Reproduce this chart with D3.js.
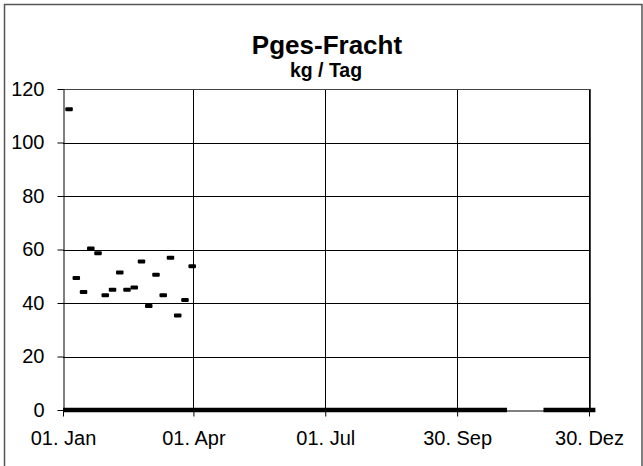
<!DOCTYPE html>
<html>
<head>
<meta charset="utf-8">
<script src="https://cdn.jsdelivr.net/npm/d3@7"></script>
<style>
  body { margin: 0; background: #fff; }
  text { font-family: "Liberation Sans", Arial, sans-serif; }
</style>
</head>
<body>
<div id="chart"></div>
<script>
// measured loads (kg / Tag), one every 5 days in Q1
var pointDates = ["2003-01-05","2003-01-10","2003-01-15","2003-01-20","2003-01-25","2003-01-30",
                  "2003-02-04","2003-02-09","2003-02-14","2003-02-19","2003-02-24","2003-03-01",
                  "2003-03-06","2003-03-11","2003-03-16","2003-03-21","2003-03-26","2003-03-31"];
var pointValues = [112.4, 49.3, 44.1, 60.4, 58.6, 42.9, 45.0, 51.4, 45.0, 45.8, 55.5, 38.9,
                   50.6, 42.9, 56.9, 35.3, 41.1, 53.7];
// days where the load is 0 (daily markers merge into a thick bar)
var zeroStart = ["2003-01-01", "2003-12-01"];
var zeroEnd = ["2003-11-01", "2004-01-01"];

var xTickDates = ["2003-01-01","2003-04-01","2003-07-01","2003-09-30","2003-12-30"];
var xTickLabels = ["01. Jan","01. Apr","01. Jul","30. Sep","30. Dez"];
var yTicks = [0, 20, 40, 60, 80, 100, 120];

var width = 643, height = 466;
var parse = d3.timeParse("%Y-%m-%d");

var x = d3.scaleTime()
  .domain([parse("2003-01-01"), parse("2003-12-30")])
  .range([63, 589]);
var y = d3.scaleLinear()
  .domain([0, 120])
  .range([410, 89]);

var svg = d3.select("#chart").append("svg")
  .attr("width", width)
  .attr("height", height);

// outer frame
svg.append("rect")
  .attr("x", 4.5).attr("y", 4.5)
  .attr("width", 637.5).attr("height", 480)
  .attr("fill", "none")
  .attr("stroke", "#555")
  .attr("stroke-width", 1.5);

var plotRight = x(parse("2003-12-31"));

// gridlines
svg.append("g").selectAll("line")
  .data(yTicks.slice(1))
  .enter().append("line")
  .attr("x1", 63).attr("x2", plotRight)
  .attr("y1", function(d) { return Math.round(y(d)) + 0.5; })
  .attr("y2", function(d) { return Math.round(y(d)) + 0.5; })
  .attr("stroke", "#000");

svg.append("g").selectAll("line")
  .data(xTickDates.slice(1))
  .enter().append("line")
  .attr("x1", function(d) { return Math.round(x(parse(d))) + 0.5; })
  .attr("x2", function(d) { return Math.round(x(parse(d))) + 0.5; })
  .attr("y1", 89).attr("y2", 410)
  .attr("stroke", "#000");

// plot area border (top / right)
svg.append("path")
  .attr("d", "M63," + (Math.round(y(120)) + 0.5) + "H" + (Math.round(plotRight) + 0.5) + "V410")
  .attr("fill", "none")
  .attr("stroke", "#444");

// axes
var xAxis = d3.axisBottom(x)
  .tickValues(xTickDates.map(parse))
  .tickFormat(function(d, i) { return xTickLabels[i]; })
  .tickSize(6)
  .tickSizeOuter(0)
  .tickPadding(14);

var yAxis = d3.axisLeft(y)
  .tickValues(yTicks)
  .tickSize(6)
  .tickSizeOuter(0)
  .tickPadding(13);

var gx = svg.append("g")
  .attr("transform", "translate(0,410.5)")
  .call(xAxis);
var gy = svg.append("g")
  .attr("transform", "translate(63.5,0)")
  .call(yAxis);

[gx, gy].forEach(function(g) {
  g.selectAll("path, line").attr("stroke", "#000");
  g.selectAll("text")
    .attr("fill", "#000")
    .style("font-size", "20px")
    .style("font-family", "'Liberation Sans', Arial, sans-serif");
});

// zero-load bars
svg.append("g").selectAll("line")
  .data(zeroStart.map(function(s, i) { return { s: parse(s), e: parse(zeroEnd[i]) }; }))
  .enter().append("line")
  .attr("x1", function(d) { return Math.max(63, x(d.s) - 3.5); })
  .attr("x2", function(d) { return x(d.e) + 3.5; })
  .attr("y1", 410).attr("y2", 410)
  .attr("stroke", "#000")
  .attr("stroke-width", 4.5);

// point markers (short dashes)
svg.append("g").selectAll("rect")
  .data(pointDates.map(function(d, i) { return { date: parse(d), value: pointValues[i] }; }))
  .enter().append("rect")
  .attr("x", function(d) { return x(d.date) - 3.5; })
  .attr("y", function(d) { return y(d.value) - 2; })
  .attr("width", 7.5)
  .attr("height", 4)
  .attr("rx", 1)
  .attr("fill", "#000");

// titles
svg.append("text")
  .attr("x", 327).attr("y", 54)
  .attr("text-anchor", "middle")
  .style("font-size", "26px")
  .style("font-weight", "bold")
  .text("Pges-Fracht");

svg.append("text")
  .attr("x", 326).attr("y", 77)
  .attr("text-anchor", "middle")
  .style("font-size", "19.5px")
  .style("font-weight", "bold")
  .text("kg / Tag");
</script>
</body>
</html>
